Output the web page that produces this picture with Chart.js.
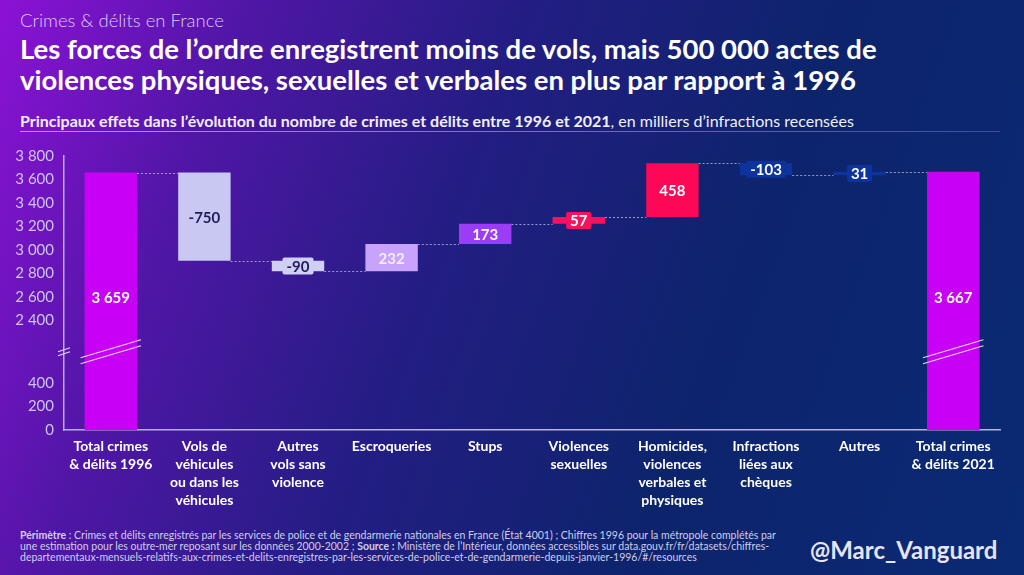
<!DOCTYPE html>
<html lang="fr">
<head>
<meta charset="UTF-8">
<meta name="viewport" content="width=device-width, initial-scale=1.0">
<title>Crimes & délits en France</title>
<script src="https://cdn.jsdelivr.net/npm/chart.js"></script>
<style>
    html, body { margin: 0; padding: 0; width: 1024px; height: 575px; overflow: hidden; }
    body {
        position: relative;
        font-family: Lato, "Open Sans", sans-serif;
        color: #fff;
        background: linear-gradient(110deg, #8c12d6 0%, #5016a6 20%, #241d84 42%, #0d246c 68%, #0a2a74 100%);
    }
    .kicker { position: absolute; left: 20px; top: 9px; font-size: 18.5px; font-weight: 300; color: #d8cff4; }
    h1 { position: absolute; left: 20px; top: 33px; margin: 0; font-size: 27.5px; line-height: 31px; font-weight: 700; }
    .sub { position: absolute; left: 20px; top: 111px; font-size: 16px; color: #f2eefc; }
    .rule { position: absolute; left: 20px; top: 131px; width: 980px; height: 1px;
        background: linear-gradient(90deg, #b58df6, rgba(170, 140, 240, 0.35)); }
    .chart-box { position: absolute; left: 0; top: 140px; width: 1024px; height: 380px; }
    .note { position: absolute; left: 20px; top: 530px; font-size: 10.5px; line-height: 11px; color: #cfcdec; white-space: nowrap; }
    .handle { position: absolute; left: 810px; top: 535px; font-size: 24px; font-weight: 700; color: #e6e4f6; }
</style>
</head>
<body>
    <div class="kicker">Crimes &amp; délits en France</div>
    <h1>Les forces de l’ordre enregistrent moins de vols, mais 500 000 actes de<br>violences physiques, sexuelles et verbales en plus par rapport à 1996</h1>
    <div class="sub"><b>Principaux effets dans l’évolution du nombre de crimes et délits entre 1996 et 2021</b>, en milliers d’infractions recensées</div>
    <div class="rule"></div>

    <div class="chart-box">
        <canvas id="waterfall"></canvas>
    </div>

    <div class="note">
        <b>Périmètre</b> : Crimes et délits enregistrés par les services de police et de gendarmerie nationales en France (État 4001) ; Chiffres 1996 pour la métropole complétés par<br>
        une estimation pour les outre-mer reposant sur les données 2000-2002 ; <b>Source :</b> Ministère de l’Intérieur, données accessibles sur data.gouv.fr/fr/datasets/chiffres-<br>
        departementaux-mensuels-relatifs-aux-crimes-et-delits-enregistres-par-les-services-de-police-et-de-gendarmerie-depuis-janvier-1996/#/resources
    </div>
    <div class="handle">@Marc_Vanguard</div>

    <script>
        // données (milliers d'infractions)
        const categories = [
            ['Total crimes', '& délits 1996'],
            ['Vols de', 'véhicules', 'ou dans les', 'véhicules'],
            ['Autres', 'vols sans', 'violence'],
            ['Escroqueries'],
            ['Stups'],
            ['Violences', 'sexuelles'],
            ['Homicides,', 'violences', 'verbales et', 'physiques'],
            ['Infractions', 'liées aux', 'chèques'],
            ['Autres'],
            ['Total crimes', '& délits 2021']
        ];
        const total1996 = 3659;
        const changes = [-750, -90, 232, 173, 57, 458, -103, 31];
        const total2021 = 3667;
        const lowTicks = [0, 200, 400];
        const highTicks = [2400, 2600, 2800, 3000, 3200, 3400, 3600, 3800];

        const barColors = ['#c900f6', '#c8c8f2', '#d0d0f4', '#c7a3fb', '#9b3cf6', '#f5135f', '#fd0857', '#0d339c', '#0d339c', '#c900f6'];
        const textColors = ['#fff', '#1d1d5c', '#1d1d5c', '#f4eeff', '#fff', '#fff', '#fff', '#fff', '#fff', '#fff'];

        // axe coupé : les valeurs hautes sont décalées vers le bas
        const axisGap = 1470;
        const breakAt = 2000;
        const breakMark = 665; // position de la coupure sur l'axe
        const toAxis = v => v >= breakAt ? v - axisGap : v;
        const fmt = n => String(n).replace(/\B(?=(\d{3})+(?!\d))/g, ' ');

        const ranges = [[0, total1996]];
        let level = total1996;
        changes.forEach(c => { ranges.push([level, level + c]); level += c; });
        ranges.push([0, total2021]);
        const barData = ranges.map(r => [toAxis(r[0]), toAxis(r[1])]);
        const barLabels = [fmt(total1996), ...changes.map(String), fmt(total2021)];

        const waterfallPlugin = {
            id: 'waterfallExtras',
            afterDatasetsDraw(chart) {
                const ctx = chart.ctx;
                const y = chart.scales.y;
                const bars = chart.getDatasetMeta(0).data;

                // lignes de liaison pointillées
                ctx.save();
                ctx.strokeStyle = 'rgba(195, 195, 230, 0.75)';
                ctx.lineWidth = 1;
                ctx.setLineDash([2, 2]);
                for (let i = 0; i < bars.length - 1; i++) {
                    const py = Math.round(y.getPixelForValue(toAxis(ranges[i][1]))) + 0.5;
                    ctx.beginPath();
                    ctx.moveTo(bars[i].x + bars[i].width / 2, py);
                    ctx.lineTo(bars[i + 1].x - bars[i + 1].width / 2, py);
                    ctx.stroke();
                }
                ctx.restore();

                // étiquettes des barres
                ctx.save();
                ctx.font = 'bold 15px Lato, sans-serif';
                ctx.textAlign = 'center';
                ctx.textBaseline = 'middle';
                bars.forEach((bar, i) => {
                    const top = Math.min(bar.y, bar.base);
                    const h = Math.abs(bar.base - bar.y);
                    let cy = top + h / 2;
                    if (i === 0 || i === bars.length - 1) cy = y.getPixelForValue(toAxis(2600));
                    if (h < 20) {
                        const w = ctx.measureText(barLabels[i]).width + 8;
                        ctx.fillStyle = barColors[i];
                        ctx.beginPath();
                        ctx.roundRect(bar.x - w / 2, cy - 8.5, w, 17, 2);
                        ctx.fill();
                    }
                    ctx.fillStyle = textColors[i];
                    ctx.fillText(barLabels[i], bar.x, cy + 1);
                });
                ctx.restore();

                // graduations de l'axe vertical
                ctx.save();
                ctx.font = '15px Lato, sans-serif';
                ctx.fillStyle = '#cbc4ec';
                ctx.textAlign = 'right';
                ctx.textBaseline = 'middle';
                [...lowTicks, ...highTicks].forEach(v => {
                    ctx.fillText(fmt(v), chart.chartArea.left - 10, y.getPixelForValue(toAxis(v)));
                });
                ctx.restore();

                // marques de coupure
                const by = y.getPixelForValue(breakMark);
                ctx.save();
                ctx.strokeStyle = '#e2d8f8';
                ctx.lineWidth = 1.2;
                [0, bars.length - 1].forEach(i => {
                    const b = bars[i];
                    const x0 = b.x - b.width / 2 - 4, x1 = b.x + b.width / 2 + 4;
                    [-3, 3].forEach(d => {
                        ctx.beginPath();
                        ctx.moveTo(x0, by + 9 + d);
                        ctx.lineTo(x1, by - 9 + d);
                        ctx.stroke();
                    });
                });
                const ax = chart.chartArea.left;
                [-2, 2].forEach(d => {
                    ctx.beginPath();
                    ctx.moveTo(ax - 6, by + 2 + d);
                    ctx.lineTo(ax + 6, by - 2 + d);
                    ctx.stroke();
                });
                ctx.restore();
            }
        };

        new Chart(document.getElementById('waterfall'), {
            type: 'bar',
            data: {
                labels: categories,
                datasets: [{
                    data: barData,
                    backgroundColor: barColors,
                    borderWidth: 0,
                    borderSkipped: false,
                    categoryPercentage: 1,
                    barPercentage: 0.56
                }]
            },
            options: {
                responsive: true,
                maintainAspectRatio: false,
                animation: false,
                layout: { padding: { top: 16, right: 24, left: 0, bottom: 0 } },
                plugins: { legend: { display: false }, tooltip: { enabled: false } },
                scales: {
                    x: {
                        grid: { display: false, drawTicks: false },
                        border: { display: true, color: '#b7b0e2', width: 1.5 },
                        ticks: {
                            color: '#ffffff',
                            padding: 8,
                            maxRotation: 0,
                            autoSkip: false,
                            font: { family: 'Lato', size: 14, weight: 'bold', lineHeight: 1.28 }
                        },
                        afterFit: scale => { scale.height = 90; }
                    },
                    y: {
                        min: 0,
                        max: toAxis(3800),
                        grid: { display: false, drawTicks: false },
                        border: { display: true, color: '#b7b0e2', width: 1.5 },
                        ticks: { display: false },
                        afterFit: scale => { scale.width = 64; }
                    }
                }
            },
            plugins: [waterfallPlugin]
        });
    </script>
</body>
</html>
